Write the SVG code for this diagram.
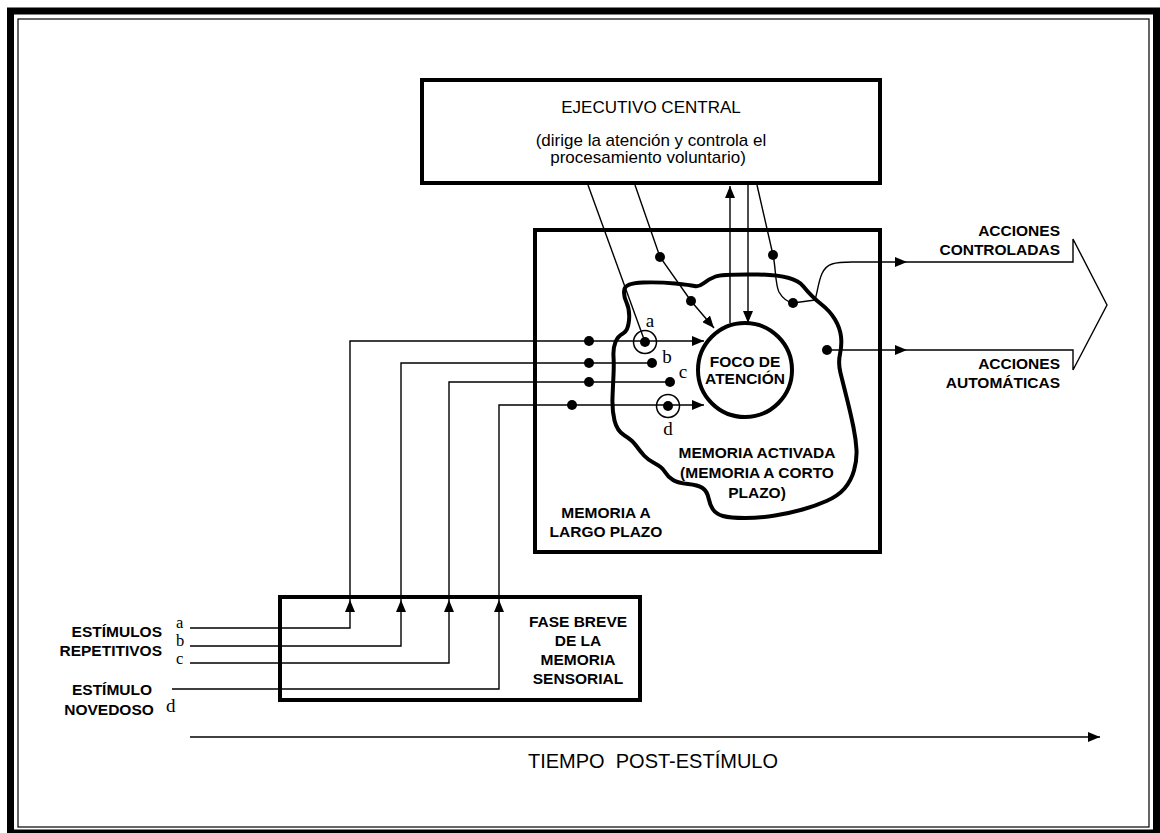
<svg xmlns="http://www.w3.org/2000/svg" width="1160" height="833" viewBox="0 0 1160 833">
<style>
.box{fill:none;stroke:#000;stroke-width:4}
.ln{fill:none;stroke:#000;stroke-width:1.4}
.ah{marker-end:url(#ah)}
.dot{fill:#000}
.ring{fill:none;stroke:#000;stroke-width:1.5}
.lb{font-family:"Liberation Sans",Arial,sans-serif;font-weight:bold;font-size:15.5px;fill:#000}
.rg{font-family:"Liberation Sans",Arial,sans-serif;font-size:17px;fill:#000}
.sf{font-family:"Liberation Serif","Times New Roman",serif;font-size:19px;fill:#000}
.sm{font-size:16.5px}
.m{text-anchor:middle}
.e{text-anchor:end}
</style>
<defs>
<marker id="ah" viewBox="0 0 12 10" refX="12" refY="5" markerWidth="12" markerHeight="10" markerUnits="userSpaceOnUse" orient="auto"><path d="M0,0 L12,5 L0,10 Z" fill="#000"/></marker>
</defs>
<rect width="1160" height="833" fill="#fff"/>
<g id="frame">
<rect x="10.5" y="11" width="1146" height="822" fill="none" stroke="#000" stroke-width="7"/>
<rect x="18" y="19" width="1131" height="808" fill="none" stroke="#000" stroke-width="1.2"/>
</g>
<g id="ejecutivo">
<rect class="box" x="422" y="80" width="458" height="103"/>
<text class="rg m" x="651" y="113">EJECUTIVO CENTRAL</text>
<text class="rg m" x="651" y="146">(dirige la atención y controla el</text>
<text class="rg m" x="648" y="163">procesamiento voluntario)</text>
</g>
<g id="memoria-largo">
<rect class="box" x="535" y="230" width="345" height="322"/>
<text class="lb m" x="606" y="518">MEMORIA A</text>
<text class="lb m" x="606" y="537">LARGO PLAZO</text>
</g>
<g id="memoria-activada">
<path fill="none" stroke="#000" stroke-width="4" stroke-linejoin="round" d="M624.5,289 Q626,283 643,282.5 Q660,282 675,283.5 Q690,285 694.5,286 Q699,287 704,283 Q709,279 715.5,276.5 Q722,274 758,274.5 Q794,275 803,286 Q812,297 821,304 Q830,311 835,319.5 Q840,328 841,336.5 Q842,345 840,354 Q838,363 840.5,373 Q843,383 847,399 Q851,415 853.5,427.5 Q856,440 856.5,450 Q857,460 854,470.5 Q851,481 844.5,488.5 Q838,496 826.5,501 Q815,506 802.5,509.5 Q790,513 775,515.5 Q760,518 745,518 Q730,518 723,516 Q716,514 713,509.5 Q710,505 708.5,498 Q707,491 702.5,488 Q698,485 688,484 Q678,483 673,480 Q668,477 665,472 Q662,467 655,463.5 Q648,460 644,455.5 Q640,451 636,445.5 Q632,440 624.5,435.5 Q617,431 614.5,420.5 Q612,410 612.5,397.5 Q613,385 613.5,375 Q614,365 613.5,356.5 Q613,348 615.5,342 Q618,336 623,333.5 Q628,331 629,320.5 Q630,310 626.5,302.5 Q623,295 624.5,289 Z"/>
<text class="lb m" x="757" y="458">MEMORIA ACTIVADA</text>
<text class="lb m" x="757" y="478">(MEMORIA A CORTO</text>
<text class="lb m" x="757" y="498">PLAZO)</text>
</g>
<g id="foco">
<circle cx="745" cy="370" r="47" fill="none" stroke="#000" stroke-width="4"/>
<text class="lb m" x="745" y="367">FOCO DE</text>
<text class="lb m" x="745" y="384">ATENCIÓN</text>
</g>
<g id="fase-breve">
<rect class="box" x="280" y="597" width="360" height="103"/>
<text class="lb m" x="578" y="627">FASE BREVE</text>
<text class="lb m" x="578" y="646">DE LA</text>
<text class="lb m" x="578" y="665">MEMORIA</text>
<text class="lb m" x="578" y="684">SENSORIAL</text>
</g>
<g id="estimulos">
<text class="lb e" x="162" y="637">ESTÍMULOS</text>
<text class="lb e" x="162" y="656">REPETITIVOS</text>
<text class="sf sm" x="176" y="628">a</text>
<text class="sf sm" x="176" y="646">b</text>
<text class="sf sm" x="176" y="664">c</text>
<text class="lb m" x="112" y="695">ESTÍMULO</text>
<text class="lb m" x="109" y="715">NOVEDOSO</text>
<text class="sf" x="166" y="712">d</text>
</g>
<g id="acciones">
<text class="lb e" x="1060" y="236">ACCIONES</text>
<text class="lb e" x="1060" y="255">CONTROLADAS</text>
<text class="lb e" x="1060" y="369">ACCIONES</text>
<text class="lb e" x="1060" y="388">AUTOMÁTICAS</text>
<polyline class="ln" points="907,262 1073,262 1073,239 1107,305 1073,370 1073,350 907,350"/>
</g>
<g id="connectors">
<path class="ln ah" d="M190,628 H350 V600"/>
<path class="ln ah" d="M350,600 V341 H704"/>
<path class="ln ah" d="M190,646 H401 V600"/>
<path class="ln" d="M401,600 V363 H652"/>
<path class="ln ah" d="M190,663 H449 V600"/>
<path class="ln" d="M449,600 V382 H670"/>
<path class="ln ah" d="M172,689 H499 V600"/>
<path class="ln ah" d="M499,600 V405 H704"/>
<path class="ln" d="M588,185 L645,342"/>
<path class="ln ah" d="M635,185 L660,257 L691,301 L714,328"/>
<path class="ln ah" d="M730,323 V186"/>
<path class="ln ah" d="M748,185 V323"/>
<path class="ln" d="M757,185 L773,255 C776,268 775,284 779,292 C783,299 788,302 793,303 L815,300"/>
<path class="ln ah" d="M815,300 C819,287 819,268 832,264 C838,262 845,262 852,262 H907"/>
<path class="ln ah" d="M827,350 H907"/>
<path class="ln ah" d="M190,737 H1100"/>
<circle class="dot" cx="589" cy="341" r="5"/>
<circle class="dot" cx="589" cy="363" r="5"/>
<circle class="dot" cx="589" cy="382" r="5"/>
<circle class="dot" cx="572" cy="405" r="5"/>
<circle class="dot" cx="645" cy="342" r="5"/>
<circle class="ring" cx="645" cy="342" r="11.5"/>
<circle class="dot" cx="652" cy="363" r="5"/>
<circle class="dot" cx="670" cy="382" r="5"/>
<circle class="dot" cx="668" cy="406" r="5"/>
<circle class="ring" cx="668" cy="406" r="11.5"/>
<circle class="dot" cx="660" cy="257" r="5"/>
<circle class="dot" cx="691" cy="301" r="5"/>
<circle class="dot" cx="773" cy="255" r="5"/>
<circle class="dot" cx="793" cy="303" r="5"/>
<circle class="dot" cx="827" cy="350" r="5"/>
</g>
<g id="labels">
<text class="sf m" x="650" y="327">a</text>
<text class="sf m" x="667" y="363">b</text>
<text class="sf m" x="683" y="378">c</text>
<text class="sf m" x="668" y="435">d</text>
<text x="653" y="768" font-family="Liberation Sans, Arial, sans-serif" font-size="20" text-anchor="middle">TIEMPO&#160; POST-ESTÍMULO</text>
</g>
</svg>
